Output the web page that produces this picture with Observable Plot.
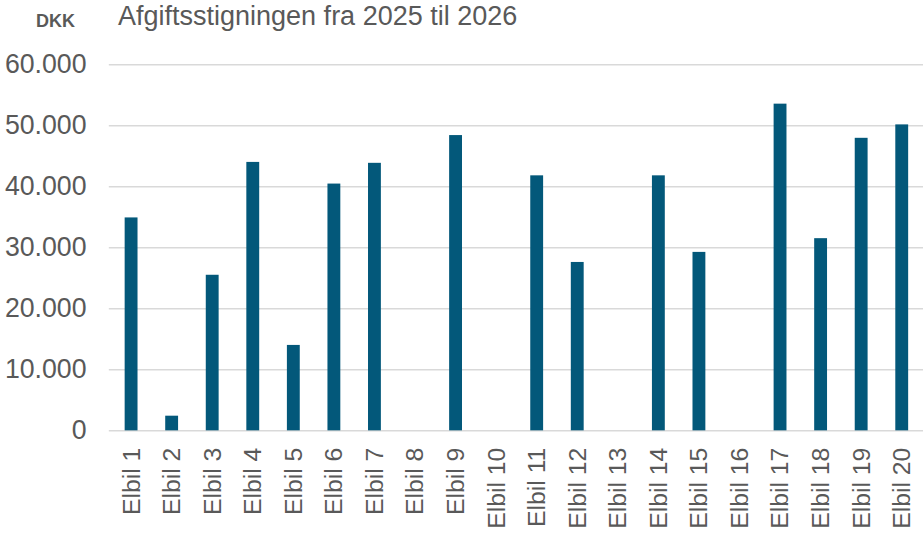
<!DOCTYPE html>
<html>
<head>
<meta charset="utf-8">
<script src="https://cdn.jsdelivr.net/npm/d3@7"></script>
<script src="https://cdn.jsdelivr.net/npm/@observablehq/plot@0.6"></script>
<style>
  html, body { margin: 0; padding: 0; background: #fff; overflow: hidden; }
  #wrap { position: relative; width: 923px; height: 533px; overflow: hidden; font-family: "Liberation Sans", Arial, sans-serif; }
  #unit { position: absolute; left: 36px; top: 12px; font-size: 18px; font-weight: bold; color: #595959; line-height: 1; }
  #sub { position: absolute; left: 118px; top: 3px; font-size: 27px; color: #595959; line-height: 1; white-space: nowrap; }
  #chart { position: absolute; left: 0; top: 0; }
</style>
</head>
<body>
<div id="wrap">
  <div id="chart"></div>
  <div id="unit">DKK</div>
  <div id="sub">Afgiftsstigningen fra 2025 til 2026</div>
</div>
<script>
const categories = ["Elbil 1","Elbil 2","Elbil 3","Elbil 4","Elbil 5","Elbil 6","Elbil 7","Elbil 8","Elbil 9","Elbil 10",
  "Elbil 11","Elbil 12","Elbil 13","Elbil 14","Elbil 15","Elbil 16","Elbil 17","Elbil 18","Elbil 19","Elbil 20"];
const values = [34900, 2400, 25500, 44000, 14000, 40450, 43850, 0, 48400, 0,
  41800, 27600, 0, 41800, 29250, 0, 53550, 31500, 47950, 50150];
const yTicks = [0, 10000, 20000, 30000, 40000, 50000, 60000];

const data = categories.map((c, i) => ({ car: c, value: values[i] }));
const fmt = d => d3.format(",")(d).replace(/,/g, ".");

const plot = Plot.plot({
  width: 933,
  height: 533,
  marginLeft: 110,
  marginRight: 0,
  marginTop: 65,
  marginBottom: 98,
  style: { fontFamily: "'Liberation Sans', Arial, sans-serif", fontSize: "27px", color: "#595959", background: "#fff" },
  x: { domain: categories, paddingInner: 0.684, paddingOuter: 0.342, label: null },
  y: { domain: [0, 60000], label: null },
  marks: [
    Plot.ruleY(yTicks, { stroke: "#d9d9d9", strokeWidth: 1.5 }),
    Plot.barY(data, { x: "car", y: "value", fill: "#03587a" }),
    Plot.axisY({ ticks: yTicks, tickFormat: fmt, tickSize: 0, tickPadding: 23, label: null, fontSize: 27, fill: "#595959" }),
    Plot.axisX({ tickSize: 0, tickPadding: 17, tickRotate: -90, label: null, fontSize: 25, fill: "#595959" })
  ]
});
document.getElementById("chart").appendChild(plot);
</script>
</body>
</html>
